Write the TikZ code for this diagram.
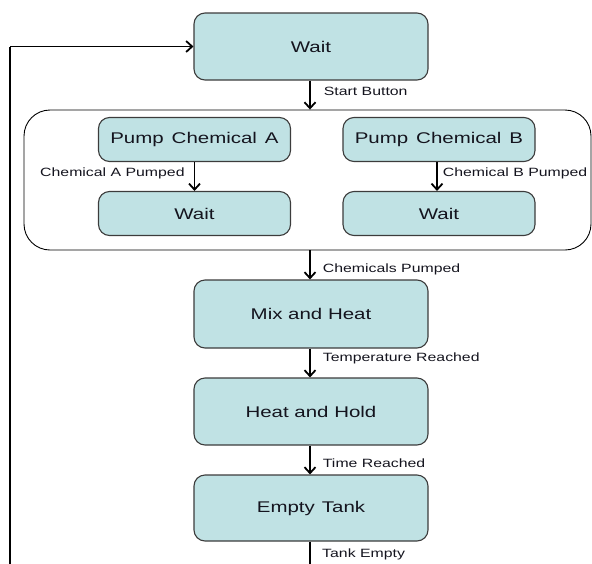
\documentclass[tikz,border=0pt]{standalone}
\usepackage{fontspec}
\usetikzlibrary{arrows.meta}
\newfontfamily\statefont[FakeStretch=1.32]{Liberation Sans}
\newfontfamily\eventfont[FakeStretch=1.32]{Liberation Sans}
\definecolor{statefill}{RGB}{192,226,228}
\definecolor{stateline}{RGB}{60,60,60}
\definecolor{txt}{RGB}{20,20,30}
\begin{document}
\begin{tikzpicture}[x=1pt,y=-1pt,
  state/.style={draw=stateline, line width=1.1pt, fill=statefill, rounded corners=11pt,
    font=\statefont\fontsize{15.5}{17}\selectfont, text=txt, inner sep=0pt},
  mainstate/.style={state, minimum width=234pt, minimum height=67pt},
  substate/.style={state, minimum width=192pt, minimum height=44pt},
  group/.style={draw=black, line width=0.9pt, rounded corners=26pt, inner sep=0pt},
  arr/.style={draw=black, line width=1.8pt, -{Straight Barb[length=6pt,width=11pt,line width=1.8pt]}},
  loopline/.style={draw=black, line width=1.8pt},
  evt/.style={font=\eventfont\fontsize{12}{14}\selectfont, text=txt, inner sep=0pt}]
\useasboundingbox (0,0) rectangle (592,563);
\clip (0,0) rectangle (592,563);

% parallel pumping group
\node[group, minimum width=567pt, minimum height=140pt] (grp) at (307.5,180) {};

% states
\node[mainstate] (wait) at (311,46.5) {Wait};
\node[substate] (pumpA) at (194.5,139.5) {Pump\hspace{8pt}Chemical\hspace{8pt}A};
\node[substate] (pumpB) at (439,139.5) {Pump\hspace{8pt}Chemical\hspace{8pt}B};
\node[substate] (waitA) at (194.5,213.5) {Wait};
\node[substate] (waitB) at (439,213.5) {Wait};
\node[mainstate, minimum height=68pt] (mix) at (311,314) {Mix and Heat};
\node[mainstate] (hold) at (311,411.5) {Heat and Hold};
\node[mainstate, minimum height=66pt] (empty) at (311,508) {Empty\hspace{7pt}Tank};

\coordinate (corner) at (10,566);

% transitions
\draw[arr] (wait.south -| 310,0) -- node[evt, anchor=west, xshift=13pt, yshift=4pt] {Start Button} (310,0 |- grp.north);
\draw[arr] (pumpA.south) -- node[evt, anchor=east, xshift=-9pt, yshift=3pt] {Chemical A Pumped} (waitA.north);
\draw[arr] (pumpB.south -| 437,0) -- node[evt, anchor=west, xshift=5pt, yshift=3pt] {Chemical B Pumped} (437,0 |- waitB.north);
\draw[arr] (310,0 |- grp.south) -- node[evt, anchor=west, xshift=12pt, yshift=-4pt] {Chemicals Pumped} (mix.north -| 310,0);
\draw[arr] (mix.south -| 310,0) -- node[evt, anchor=west, xshift=12pt, yshift=5pt] {Temperature Reached} (hold.north -| 310,0);
\draw[arr] (hold.south -| 310,0) -- node[evt, anchor=west, xshift=12pt, yshift=-3pt] {Time Reached} (empty.north -| 310,0);
\draw[loopline] (empty.south -| 310,0) -- (310,566);
\node[evt, anchor=west] (tankempty) at (322,554) {Tank Empty};
\draw[loopline] (310,566) -- (corner) -- (10,46.5);
\draw[arr] (10,46.5) -- (wait.west);
\end{tikzpicture}
\end{document}
